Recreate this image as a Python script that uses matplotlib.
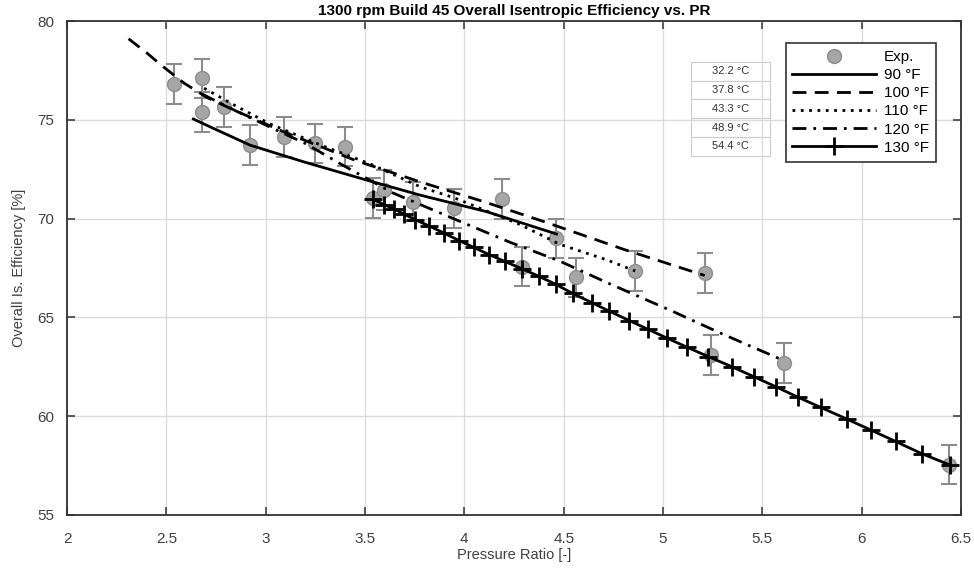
import numpy as np
import matplotlib
matplotlib.use("Agg")
import matplotlib.pyplot as plt

plt.rcParams['font.family'] = ['Liberation Sans', 'DejaVu Sans']

# Dados experimentais (PR, eficiencia, erro)
exp_pr = [2.54, 2.68, 2.68, 2.79, 2.92, 3.09, 3.25, 3.40, 3.54, 3.595, 3.74,
          3.95, 4.19, 4.46, 4.29, 4.56, 4.86, 5.21, 5.24, 5.61, 6.44]
exp_eff = [76.8, 77.1, 75.4, 75.65, 73.72, 74.12, 73.81, 73.64, 71.03, 71.45, 70.86,
           70.52, 70.99, 69.0, 67.57, 67.03, 67.35, 67.25, 63.1, 62.7, 57.55]
exp_err = [1.0] * len(exp_pr)

# Modelos para cada temperatura
pr_90 = [2.636, 2.736, 2.921, 3.189, 3.508, 3.777, 4.112, 4.464]
eff_90 = [75.04, 74.57, 73.72, 72.88, 71.95, 71.19, 70.35, 69.22]

pr_100 = [2.31, 2.40, 2.47, 2.59, 2.71, 2.85, 3.10, 3.45, 3.78, 4.10, 4.40, 4.80, 5.21]
eff_100 = [79.1, 78.4, 77.8, 76.85, 76.1, 75.45, 74.35, 72.95, 71.85, 70.85, 69.85, 68.45, 67.12]

pr_110 = [2.69, 2.85, 3.02, 3.27, 3.53, 3.78, 3.95, 4.28, 4.48, 4.72, 4.86]
eff_110 = [76.6, 75.7, 74.8, 73.75, 72.75, 71.6, 71.05, 69.7, 68.7, 67.9, 67.35]

pr_120 = [2.68, 2.85, 3.06, 3.20, 3.38, 3.64, 3.98, 4.23, 4.48, 4.72, 5.05, 5.29, 5.60]
eff_120 = [76.3, 75.45, 74.45, 73.8, 72.75, 71.3, 69.85, 68.8, 67.85, 66.75, 65.3, 64.2, 62.85]

pr_130 = [3.540, 3.595, 3.646, 3.696, 3.751, 3.822, 3.897, 3.973, 4.048, 4.124, 4.204,
          4.288, 4.377, 4.461, 4.545, 4.641, 4.729, 4.830, 4.926, 5.018, 5.119, 5.227,
          5.345, 5.457, 5.568, 5.677, 5.795, 5.924, 6.046, 6.171, 6.301, 6.444]
eff_130 = [70.99, 70.71, 70.49, 70.23, 69.95, 69.63, 69.27, 68.89, 68.54, 68.18, 67.83,
           67.47, 67.07, 66.67, 66.21, 65.75, 65.32, 64.84, 64.39, 63.96, 63.50, 63.02,
           62.51, 62.00, 61.49, 60.97, 60.44, 59.86, 59.30, 58.72, 58.11, 57.53]

legend_labels = ['Exp.', '90 °F', '100 °F', '110 °F', '120 °F', '130 °F']
celsius_labels = ['32.2 °C', '37.8 °C', '43.3 °C', '48.9 °C', '54.4 °C']

x_ticks = [2, 2.5, 3, 3.5, 4, 4.5, 5, 5.5, 6, 6.5]
y_ticks = [55, 60, 65, 70, 75, 80]


def main():
    fig = plt.figure(figsize=(9.74, 5.71), dpi=100)
    ax = fig.add_axes([0.0688, 0.0981, 0.9179, 0.8651])

    # pontos experimentais com barras de erro
    ax.errorbar(exp_pr, exp_eff, yerr=exp_err, fmt='o', ms=10,
                mfc='#a6a6a6', mec='#8c8c8c', ecolor='#8c8c8c',
                elinewidth=1.5, capsize=6, capthick=1.5, zorder=2)

    # linhas dos modelos
    l90, = ax.plot(pr_90, eff_90, color='k', lw=2, ls='-', zorder=3)
    l100, = ax.plot(pr_100, eff_100, color='k', lw=2, ls=(0, (5, 3)), zorder=3)
    l110, = ax.plot(pr_110, eff_110, color='k', lw=2, ls=(0, (1, 2)), zorder=3)
    l120, = ax.plot(pr_120, eff_120, color='k', lw=2, ls=(0, (5, 2.5, 1, 2.5)), zorder=3)
    l130, = ax.plot(pr_130, eff_130, color='k', lw=2, ls='-', marker='+',
                    ms=13, mew=2, zorder=3)

    ax.set_xlim(2, 6.5)
    ax.set_ylim(55, 80)
    ax.set_xticks(x_ticks)
    ax.set_yticks(y_ticks)
    ax.set_xticklabels(['%g' % t for t in x_ticks])
    ax.grid(True, color='#dcdcdc', lw=1)
    ax.set_axisbelow(True)
    ax.tick_params(direction='in', length=6, width=1.2, top=True, right=True,
                   labelsize=11, colors='#404040')
    ax.tick_params(axis='x', pad=12)
    ax.tick_params(axis='y', pad=9)
    for s in ax.spines.values():
        s.set_color('#333333')
        s.set_linewidth(1.3)

    ax.set_title('1300 rpm Build 45 Overall Isentropic Efficiency vs. PR',
                 fontsize=11, fontweight='bold', pad=4)
    ax.set_xlabel('Pressure Ratio [-]', fontsize=10.5, color='#404040', labelpad=2)
    ax.set_ylabel('Overall Is. Efficiency [%]', fontsize=10.5, color='#404040', labelpad=8)

    # legenda
    exp_handle = plt.Line2D([], [], ls='none', marker='o', ms=10, mfc='#a6a6a6', mec='#8c8c8c')
    leg = ax.legend([exp_handle, l90, l100, l110, l120, l130], legend_labels,
                    loc='upper right', bbox_to_anchor=(0.972, 0.955), borderaxespad=0,
                    fontsize=11, handlelength=5.5, numpoints=1, fancybox=False,
                    framealpha=1, edgecolor='#333333', borderpad=0.45,
                    labelspacing=0.27, handletextpad=0.5)
    leg.get_frame().set_linewidth(1.2)

    # tabela com as temperaturas em Celsius
    tab = ax.table(cellText=[[c] for c in celsius_labels], cellLoc='center',
                   bbox=[0.6977, 0.7273, 0.0887, 0.1903])
    tab.auto_set_font_size(False)
    for cell in tab.get_celld().values():
        cell.set_edgecolor('#cccccc')
        cell.set_linewidth(0.8)
        cell.get_text().set_fontsize(8)
        cell.get_text().set_color('#333333')

    fig.savefig('out.png', dpi=100)


if __name__ == "__main__":
    main()
